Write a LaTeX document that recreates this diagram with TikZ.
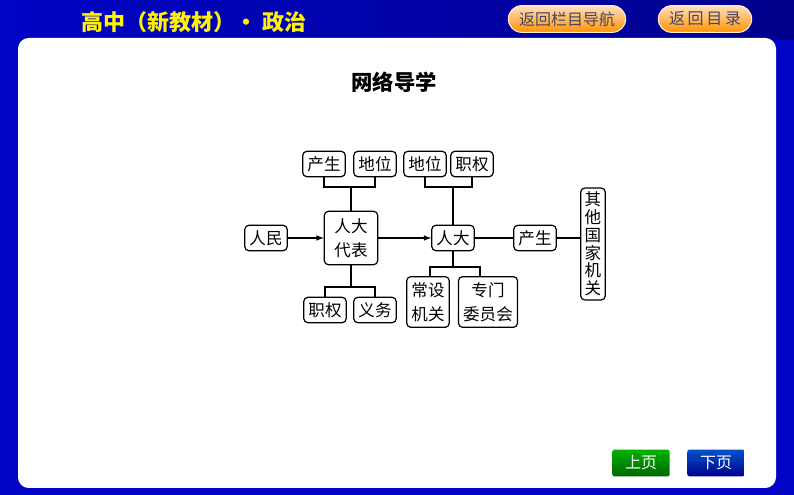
\documentclass[tikz,border=0pt]{standalone}
\usepackage{fontspec}
\setmainfont{Noto Sans CJK SC}
\usetikzlibrary{arrows}

\definecolor{bgblue}{RGB}{0,4,196}
\definecolor{bgdark}{RGB}{0,0,140}
\definecolor{headyellow}{RGB}{255,242,0}
\definecolor{btntext}{RGB}{70,70,100}

\begin{document}
\begin{tikzpicture}[x=0.75pt,y=-0.75pt,>=latex]
	\def \toprow{164}
	\def \upbar{187}
	\def \midrow{238}
	\def \lowbarA{287}
	\def \lowbarB{267}
	\def \botrowA{310}
	\def \botrowB{302}

	\tikzstyle{box}=[draw=black,line width=0.9pt,fill=white,rounded corners=3pt,inner sep=3.5pt,minimum height=19pt,font=\fontsize{12.4}{18}\selectfont,align=center]
	\tikzstyle{conn}=[draw=black,line width=0.9pt]
	\tikzstyle{navbtn}=[rounded corners=10pt,draw=white!85!orange,line width=0.8pt,top color=orange!25!white,bottom color=orange!85!yellow,text=btntext,font=\fontsize{12}{12}\selectfont,minimum height=20pt,inner xsep=8pt]
	\tikzstyle{pagebtn}=[rounded corners=1.5pt,text=white,font=\fontsize{12}{12}\selectfont,minimum width=43pt,minimum height=20pt]

	\useasboundingbox (0,0) rectangle (794,495);
	% background and panel
	\shade[left color=bgblue,right color=bgdark] (0,0) rectangle (794,495);
	\fill[bgblue] (0,40) rectangle (794,495);
	\fill[white,rounded corners=8pt] (18,38) rectangle (776,488);

	% header
	\node[text=headyellow,font=\fontsize{16.5}{16.5}\selectfont\bfseries] (head) at (194,22) {高中（新教材）·~政治};
	\node[navbtn] (nav) at (567,19) {返回栏目导航};
	\node[navbtn] (menu) at (705,19) {返\,回\,目\,录};

	% title
	\node[font=\fontsize{16}{16}\selectfont\bfseries] (title) at (394,82) {网络导学};

	% diagram
	\node[box] (rm)   at (266,\midrow) {人民};
	\node[box,minimum width=40pt,minimum height=40pt] (db) at (351,\midrow) {人大\\代表};
	\node[box] (cs1)  at (324,\toprow) {产生};
	\node[box] (dw1)  at (375,\toprow) {地位};
	\node[box] (zq1)  at (325,\botrowA) {职权};
	\node[box] (yw)   at (375,\botrowA) {义务};

	\node[box] (rd)   at (453,\midrow) {人大};
	\node[box] (dw2)  at (425,\toprow) {地位};
	\node[box] (zq2)  at (472,\toprow) {职权};
	\node[box,minimum height=38pt] (cj) at (428,\botrowB) {常设\\机关};
	\node[box,minimum height=38pt] (zm) at (488,\botrowB) {专门\\委员会};

	\node[box] (cs2)  at (535,\midrow) {产生};
	\node[box,inner sep=3pt,font=\fontsize{12.4}{13.3}\selectfont] (qt) at (593,244) {其\\他\\国\\家\\机\\关};

	% brackets
	\coordinate (b1) at (351,\upbar);
	\coordinate (b2) at (351,\lowbarA);
	\coordinate (b3) at (453,\upbar);
	\coordinate (b4) at (453,\lowbarB);
	\coordinate (b4l) at (430,\lowbarB);
	\coordinate (b4r) at (480,\lowbarB);

	\draw[conn] (cs1.south) -- (cs1.south |- b1) -- (dw1.south |- b1) -- (dw1.south);
	\draw[conn] (b1) -- (db.north);
	\draw[conn] (zq1.north) -- (zq1.north |- b2) -- (yw.north |- b2) -- (yw.north);
	\draw[conn] (db.south) -- (b2);
	\draw[conn] (dw2.south) -- (dw2.south |- b3) -- (zq2.south |- b3) -- (zq2.south);
	\draw[conn] (b3) -- (rd.north);
	\draw[conn] (b4l |- cj.north) -- (b4l) -- (b4r) -- (b4r |- zm.north);
	\draw[conn] (rd.south) -- (b4);

	% arrows and lines
	\draw[conn,->] (rm) -- (db);
	\draw[conn,->] (db) -- (rd);
	\draw[conn] (rd) -- (cs2);
	\draw[conn] (cs2.east) -- (cs2.east -| qt.west);

	% page buttons
	\node[pagebtn,top color=green!70!black,bottom color=green!40!black] (prev) at (641,463) {上页};
	\node[pagebtn,top color=blue!60!cyan!80!black,bottom color=blue!55!black] (next) at (716,463) {下页};
\end{tikzpicture}
\end{document}
